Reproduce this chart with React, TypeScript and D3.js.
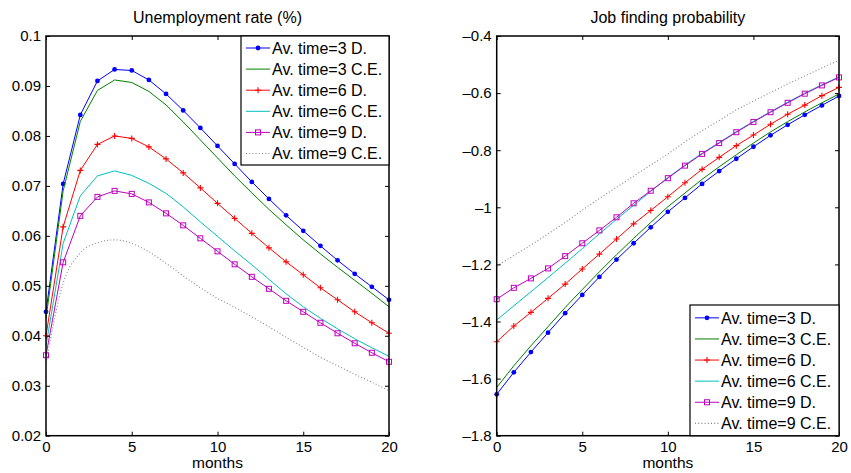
import { useEffect, useRef } from 'react';
import * as d3 from 'd3';

const months = [0, 1, 2, 3, 4, 5, 6, 7, 8, 9, 10, 11, 12, 13, 14, 15, 16, 17, 18, 19, 20];

// Unemployment rate (%)
const unemp3D = [0.0448, 0.0704, 0.0842, 0.0910, 0.0933, 0.0931, 0.0912, 0.0884, 0.0851, 0.0816, 0.0780, 0.0744, 0.0708, 0.0674, 0.0641, 0.0610, 0.0580, 0.0551, 0.0524, 0.0498, 0.0472];
const unemp3CE = [0.0435, 0.0690, 0.0829, 0.0891, 0.0912, 0.0907, 0.0889, 0.0862, 0.0828, 0.0792, 0.0756, 0.0720, 0.0686, 0.0653, 0.0622, 0.0592, 0.0564, 0.0537, 0.0511, 0.0485, 0.0458];
const unemp6D = [0.0400, 0.0618, 0.0731, 0.0783, 0.0800, 0.0795, 0.0778, 0.0754, 0.0726, 0.0696, 0.0665, 0.0635, 0.0605, 0.0576, 0.0548, 0.0522, 0.0496, 0.0472, 0.0448, 0.0426, 0.0405];
const unemp6CE = [0.0380, 0.0585, 0.0680, 0.0720, 0.0730, 0.0721, 0.0705, 0.0685, 0.0658, 0.0628, 0.0599, 0.0570, 0.0542, 0.0513, 0.0484, 0.0458, 0.0435, 0.0414, 0.0394, 0.0376, 0.0359];
const unemp9D = [0.0361, 0.0547, 0.0640, 0.0678, 0.0690, 0.0684, 0.0667, 0.0645, 0.0621, 0.0595, 0.0569, 0.0543, 0.0518, 0.0494, 0.0470, 0.0448, 0.0426, 0.0405, 0.0385, 0.0366, 0.0348];
const unemp9CE = [0.0345, 0.0505, 0.0566, 0.0586, 0.0592, 0.0585, 0.0568, 0.0545, 0.0520, 0.0496, 0.0475, 0.0457, 0.0438, 0.0418, 0.0397, 0.0377, 0.0357, 0.0340, 0.0323, 0.0307, 0.0290];

// Job finding probability
const job3D = [-1.655, -1.578, -1.507, -1.439, -1.371, -1.307, -1.244, -1.183, -1.126, -1.070, -1.016, -0.967, -0.918, -0.873, -0.830, -0.788, -0.748, -0.711, -0.676, -0.643, -0.610];
const job3CE = [-1.631, -1.555, -1.485, -1.418, -1.351, -1.288, -1.226, -1.166, -1.109, -1.053, -0.998, -0.950, -0.902, -0.858, -0.816, -0.775, -0.736, -0.700, -0.666, -0.634, -0.603];
const job6D = [-1.471, -1.416, -1.368, -1.319, -1.269, -1.216, -1.164, -1.111, -1.058, -1.011, -0.963, -0.914, -0.867, -0.825, -0.784, -0.747, -0.709, -0.674, -0.642, -0.609, -0.580];
const job6CE = [-1.395, -1.345, -1.296, -1.246, -1.196, -1.145, -1.093, -1.042, -0.993, -0.944, -0.896, -0.852, -0.811, -0.773, -0.735, -0.699, -0.665, -0.632, -0.600, -0.571, -0.543];
const job9D = [-1.322, -1.282, -1.249, -1.214, -1.171, -1.126, -1.081, -1.035, -0.986, -0.942, -0.898, -0.854, -0.813, -0.775, -0.737, -0.701, -0.667, -0.634, -0.602, -0.573, -0.545];
const job9CE = [-1.206, -1.169, -1.132, -1.093, -1.053, -1.010, -0.969, -0.930, -0.891, -0.852, -0.813, -0.771, -0.732, -0.696, -0.659, -0.628, -0.598, -0.568, -0.540, -0.512, -0.485];

const seriesNames = ['Av. time=3 D.', 'Av. time=3 C.E.', 'Av. time=6 D.', 'Av. time=6 C.E.', 'Av. time=9 D.', 'Av. time=9 C.E.'];

const xTicks = [0, 5, 10, 15, 20];
const unempTicks = [0.02, 0.03, 0.04, 0.05, 0.06, 0.07, 0.08, 0.09, 0.1];
const jobTicks = [-1.8, -1.6, -1.4, -1.2, -1, -0.8, -0.6, -0.4];

type Marker = 'dot' | 'plus' | 'square' | 'none';
interface SeriesStyle { color: string; marker: Marker; dash?: string; }

const styles: SeriesStyle[] = [
  { color: '#0000ff', marker: 'dot' },
  { color: '#008000', marker: 'none' },
  { color: '#ff0000', marker: 'plus' },
  { color: '#00bfbf', marker: 'none' },
  { color: '#bf00bf', marker: 'square' },
  { color: '#858585', marker: 'none', dash: '1,2.2' },
];

const FONT = "'Liberation Sans', Arial, Helvetica, sans-serif";

interface PanelConfig {
  title: string;
  left: number;
  right: number;
  top: number;
  bottom: number;
  yDomain: [number, number];
  yTicks: number[];
  yFormat: (v: number) => string;
  series: number[][];
  legend: { x: number; y: number; w: number; h: number };
}

function drawMarker(g: d3.Selection<SVGGElement, unknown, null, undefined>, marker: Marker, color: string, x: number, y: number) {
  if (marker === 'dot') {
    g.append('circle').attr('cx', x).attr('cy', y).attr('r', 2.4).attr('fill', color);
  } else if (marker === 'plus') {
    g.append('path')
      .attr('d', `M${x - 3},${y}H${x + 3}M${x},${y - 3}V${y + 3}`)
      .attr('stroke', color)
      .attr('stroke-width', 1.1);
  } else if (marker === 'square') {
    g.append('rect')
      .attr('x', x - 2.5).attr('y', y - 2.5)
      .attr('width', 5).attr('height', 5)
      .attr('fill', 'none')
      .attr('stroke', color)
      .attr('stroke-width', 1);
  }
}

function drawPanel(svg: d3.Selection<SVGSVGElement, unknown, null, undefined>, cfg: PanelConfig) {
  const x = d3.scaleLinear().domain([0, 20]).range([cfg.left, cfg.right]);
  const y = d3.scaleLinear().domain(cfg.yDomain).range([cfg.bottom, cfg.top]);
  const g = svg.append('g');

  // lines
  cfg.series.forEach((vals, i) => {
    const st = styles[i];
    const pts = months.map((m, k) => [m, vals[k]] as [number, number]);
    const line = d3.line<[number, number]>()
      .x(d => x(d[0]))
      .y(d => y(d[1]))
      .curve(st.dash ? d3.curveMonotoneX : d3.curveLinear);
    g.append('path')
      .datum(pts)
      .attr('d', line)
      .attr('fill', 'none')
      .attr('stroke', st.color)
      .attr('stroke-width', st.dash ? 1.1 : 1)
      .attr('stroke-dasharray', st.dash ?? null);
    if (st.marker !== 'none') {
      const mg = g.append('g');
      pts.forEach(p => drawMarker(mg, st.marker, st.color, x(p[0]), y(p[1])));
    }
  });

  // axes with inward ticks on all four sides
  const axisStyle = (a: d3.Selection<SVGGElement, unknown, null, undefined>) => {
    a.select('.domain').remove();
    a.selectAll('line').attr('stroke', '#000');
    a.selectAll('text').attr('font-family', FONT).attr('font-size', 15).attr('fill', '#000');
  };

  svg.append('g')
    .attr('transform', `translate(0,${cfg.bottom})`)
    .call(d3.axisBottom(x).tickValues(xTicks).tickSize(-4).tickPadding(6).tickFormat(d3.format('d')))
    .call(axisStyle);
  svg.append('g')
    .attr('transform', `translate(0,${cfg.top})`)
    .call(d3.axisTop(x).tickValues(xTicks).tickSize(-4).tickFormat(() => ''))
    .call(axisStyle);
  svg.append('g')
    .attr('transform', `translate(${cfg.left},0)`)
    .call(d3.axisLeft(y).tickValues(cfg.yTicks).tickSize(-4).tickPadding(5).tickFormat(d => cfg.yFormat(d as number)))
    .call(axisStyle);
  svg.append('g')
    .attr('transform', `translate(${cfg.right},0)`)
    .call(d3.axisRight(y).tickValues(cfg.yTicks).tickSize(-4).tickFormat(() => ''))
    .call(axisStyle);

  svg.append('rect')
    .attr('x', cfg.left).attr('y', cfg.top)
    .attr('width', cfg.right - cfg.left).attr('height', cfg.bottom - cfg.top)
    .attr('fill', 'none')
    .attr('stroke', '#000')
    .attr('stroke-width', 1.5);

  // title and x label
  svg.append('text')
    .attr('x', (cfg.left + cfg.right) / 2)
    .attr('y', 23)
    .attr('text-anchor', 'middle')
    .attr('font-family', FONT)
    .attr('font-size', 16)
    .text(cfg.title);
  svg.append('text')
    .attr('x', (cfg.left + cfg.right) / 2)
    .attr('y', 468)
    .attr('text-anchor', 'middle')
    .attr('font-family', FONT)
    .attr('font-size', 15.5)
    .text('months');

  // legend
  const lg = svg.append('g');
  const { x: lx, y: ly, w: lw, h: lh } = cfg.legend;
  lg.append('rect')
    .attr('x', lx).attr('y', ly).attr('width', lw).attr('height', lh)
    .attr('fill', '#fff').attr('stroke', '#000').attr('stroke-width', 1.2);
  seriesNames.forEach((name, i) => {
    const st = styles[i];
    const cy = ly + 12 + i * 21.1 + (lh - 129) / 2;
    lg.append('line')
      .attr('x1', lx + 5).attr('x2', lx + 29)
      .attr('y1', cy).attr('y2', cy)
      .attr('stroke', st.color)
      .attr('stroke-width', st.dash ? 1.1 : 1)
      .attr('stroke-dasharray', st.dash ?? null);
    drawMarker(lg, st.marker, st.color, lx + 17, cy);
    lg.append('text')
      .attr('x', lx + 31)
      .attr('y', cy)
      .attr('dy', '0.36em')
      .attr('font-family', FONT)
      .attr('font-size', 16)
      .text(name);
  });
}

export default function App() {
  const svgRef = useRef<SVGSVGElement>(null);

  useEffect(() => {
    if (!svgRef.current) return;
    const svg = d3.select(svgRef.current);
    svg.selectAll('*').remove();

    svg.append('rect').attr('width', 851).attr('height', 473).attr('fill', '#fff');

    drawPanel(svg, {
      title: 'Unemployment rate (%)',
      left: 46, right: 389, top: 36, bottom: 435.7,
      yDomain: [0.02, 0.1],
      yTicks: unempTicks,
      yFormat: v => d3.format('~g')(v),
      series: [unemp3D, unemp3CE, unemp6D, unemp6CE, unemp9D, unemp9CE],
      legend: { x: 241, y: 36, w: 148, h: 129 },
    });

    drawPanel(svg, {
      title: 'Job finding probability',
      left: 496.7, right: 839, top: 36, bottom: 435.7,
      yDomain: [-1.8, -0.4],
      yTicks: jobTicks,
      yFormat: v => d3.format('~g')(v).replace('−', '–'),
      series: [job3D, job3CE, job6D, job6CE, job9D, job9CE],
      legend: { x: 690, y: 305, w: 149, h: 130.7 },
    });
  }, []);

  return (
    <svg
      ref={svgRef}
      width={851}
      height={473}
      style={{ position: 'absolute', left: 0, top: 0 }}
    />
  );
}
